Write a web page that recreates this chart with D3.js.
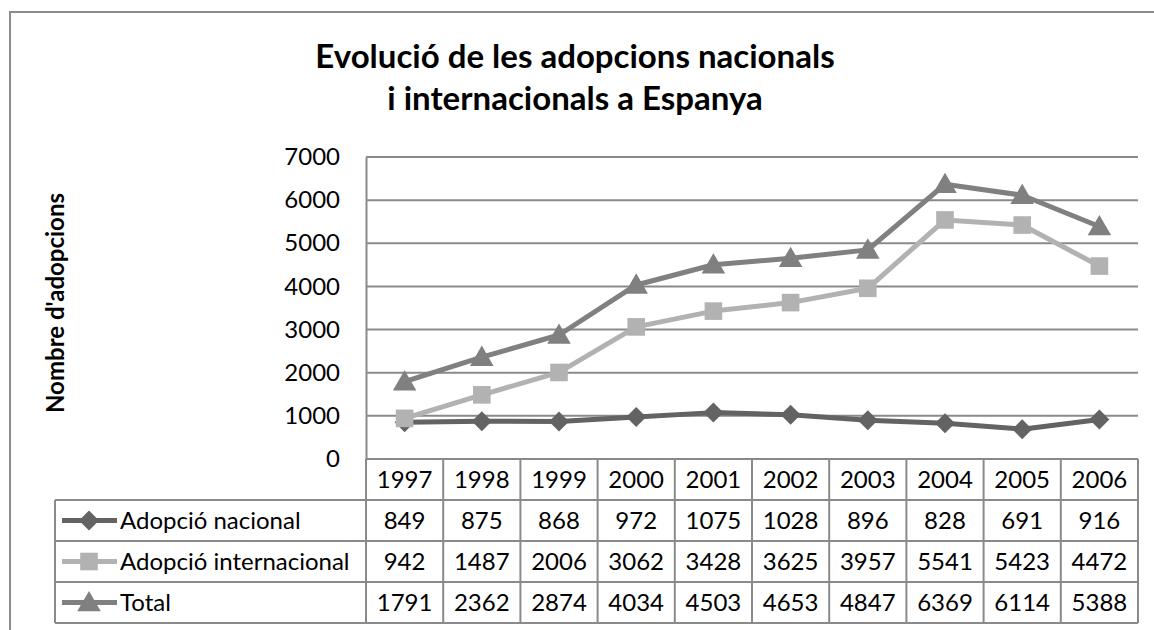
<!DOCTYPE html>
<html>
<head>
<meta charset="utf-8">
<script src="https://cdn.jsdelivr.net/npm/d3@7/dist/d3.min.js"></script>
<style>
  html, body { margin: 0; padding: 0; background: #fff; }
  svg { display: block; }
  text { font-family: Lato, "Open Sans", sans-serif; fill: #000; }
</style>
</head>
<body>
<svg id="chart" width="1154" height="630"></svg>
<script>
const titleLines = ["Evolució de les adopcions nacionals", "i internacionals a Espanya"];
const yAxisTitle = "Nombre d'adopcions";
const years = ["1997", "1998", "1999", "2000", "2001", "2002", "2003", "2004", "2005", "2006"];
const nacional = [849, 875, 868, 972, 1075, 1028, 896, 828, 691, 916];
const internacional = [942, 1487, 2006, 3062, 3428, 3625, 3957, 5541, 5423, 4472];
const total = [1791, 2362, 2874, 4034, 4503, 4653, 4847, 6369, 6114, 5388];
const seriesNames = ["Adopció nacional", "Adopció internacional", "Total"];
const yTicks = [0, 1000, 2000, 3000, 4000, 5000, 6000, 7000];

(function () {
const series = [
  { name: seriesNames[0], values: nacional, color: "#636363", symbol: d3.symbolSquare, size: 200, rot: 45, dy: 0 },
  { name: seriesNames[1], values: internacional, color: "#b2b2b2", symbol: d3.symbolSquare, size: 310, rot: 0, dy: 0 },
  { name: seriesNames[2], values: total, color: "#808080", symbol: d3.symbolTriangle, size: 240, rot: 0, dy: 2 }
];

const svg = d3.select("#chart");
const gridColor = "#8a8a8a";
const tableFont = "24px";

svg.append("rect").attr("x", 10).attr("y", 12).attr("width", 1170).attr("height", 650)
  .attr("fill", "none").attr("stroke", "#8c8c8c").attr("stroke-width", 2);

svg.append("text").attr("x", 575).attr("y", 68).attr("text-anchor", "middle")
  .style("font-weight", "bold").style("font-size", "33px").text(titleLines[0]);
svg.append("text").attr("x", 575).attr("y", 110).attr("text-anchor", "middle")
  .style("font-weight", "bold").style("font-size", "33px").text(titleLines[1]);

const pLeft = 366, pRight = 1138, pTop = 157, pBottom = 459, tBottom = 623;
const x = d3.scaleBand().domain(years).range([pLeft, pRight]).padding(0);
const y = d3.scaleLinear().domain([0, 7000]).range([pBottom, pTop]);
const cx = d => x(d) + x.bandwidth() / 2;

svg.append("g").selectAll("line").data(yTicks.filter(t => t > 0)).join("line")
  .attr("x1", pLeft).attr("x2", pRight).attr("y1", d => y(d)).attr("y2", d => y(d))
  .attr("stroke", gridColor).attr("stroke-width", 2);

const yAxis = d3.axisLeft(y).tickValues(yTicks).tickSize(0).tickPadding(26).tickFormat(d3.format("d"));
const ya = svg.append("g").attr("transform", `translate(${pLeft},0)`).call(yAxis);
ya.select(".domain").attr("stroke", gridColor).attr("stroke-width", 2);
ya.selectAll("text").style("font-family", "Lato, sans-serif").style("font-size", tableFont).attr("fill", "#000");

svg.append("text").attr("transform", `translate(64,303) rotate(-90)`).attr("text-anchor", "middle")
  .style("font-weight", "bold").style("font-size", "24px").text(yAxisTitle);

const rowKeys = ["header", ...seriesNames];
const rowY = d3.scaleBand().domain(rowKeys).range([pBottom, tBottom]);
const legendLeft = 55;
const tg = svg.append("g");
rowKeys.forEach(k => {
  const yy = rowY(k) + rowY.bandwidth();
  tg.append("line").attr("x1", legendLeft).attr("x2", pRight).attr("y1", yy).attr("y2", yy)
    .attr("stroke", gridColor).attr("stroke-width", 2);
});
tg.append("line").attr("x1", pLeft).attr("x2", pRight).attr("y1", pBottom).attr("y2", pBottom)
  .attr("stroke", gridColor).attr("stroke-width", 2);
years.forEach(yr => {
  tg.append("line").attr("x1", x(yr)).attr("x2", x(yr)).attr("y1", pBottom).attr("y2", tBottom)
    .attr("stroke", gridColor).attr("stroke-width", 2);
});
tg.append("line").attr("x1", pRight).attr("x2", pRight).attr("y1", pBottom).attr("y2", tBottom)
  .attr("stroke", gridColor).attr("stroke-width", 2);
tg.append("line").attr("x1", legendLeft).attr("x2", legendLeft).attr("y1", rowY(seriesNames[0])).attr("y2", tBottom)
  .attr("stroke", gridColor).attr("stroke-width", 2);

tg.selectAll("text.yr").data(years).join("text").attr("class", "yr")
  .attr("x", d => cx(d)).attr("y", rowY("header") + rowY.bandwidth() / 2 + 8)
  .attr("text-anchor", "middle").style("font-size", tableFont).text(d => d);

series.forEach(s => {
  const ry = rowY(s.name) + rowY.bandwidth() / 2;
  tg.append("g").selectAll("text").data(s.values).join("text")
    .attr("x", (d, i) => cx(years[i])).attr("y", ry + 8)
    .attr("text-anchor", "middle").style("font-size", tableFont).text(d => d);
  tg.append("line").attr("x1", 62).attr("x2", 117).attr("y1", ry).attr("y2", ry)
    .attr("stroke", s.color).attr("stroke-width", 5);
  tg.append("path").attr("d", d3.symbol().type(s.symbol).size(s.size)())
    .attr("transform", `translate(89,${ry + s.dy}) rotate(${s.rot})`)
    .attr("fill", s.color);
  tg.append("text").attr("x", 120).attr("y", ry + 8).style("font-size", tableFont).text(s.name);
});

const line = d3.line().x((d, i) => cx(years[i])).y(d => y(d));
series.forEach(s => {
  const g = svg.append("g");
  g.append("path").datum(s.values).attr("d", line).attr("fill", "none")
    .attr("stroke", s.color).attr("stroke-width", 5).attr("stroke-linejoin", "round");
  g.selectAll("path.m").data(s.values).join("path").attr("class", "m")
    .attr("d", d3.symbol().type(s.symbol).size(s.size)())
    .attr("transform", (d, i) => `translate(${cx(years[i])},${y(d) + s.dy}) rotate(${s.rot})`)
    .attr("fill", s.color);
});
})();
</script>
</body>
</html>
